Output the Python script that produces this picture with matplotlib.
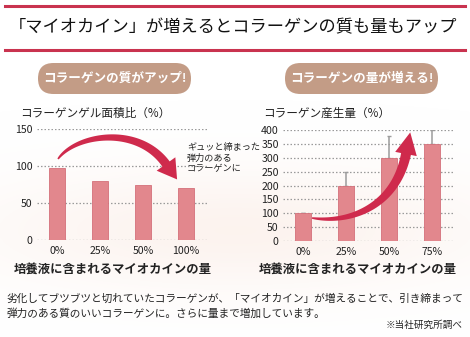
import matplotlib
matplotlib.use('Agg')
import matplotlib.pyplot as plt
from matplotlib.patches import FancyBboxPatch, Polygon
import numpy as np

plt.rcParams['font.family'] = ['Noto Sans CJK JP', 'DejaVu Sans']

# data
left_cats = ['0%', '25%', '50%', '100%']
left_vals = [97, 80, 75, 70]
left_ticks = [0, 50, 100, 150]

right_cats = ['0%', '25%', '50%', '75%']
right_vals = [100, 200, 300, 350]
right_err = [0, 50, 80, 50]
right_ticks = [0, 50, 100, 150, 200, 250, 300, 350, 400]

title = '「マイオカイン」が増えるとコラーゲンの質も量もアップ'
left_badge = 'コラーゲンの質がアップ!'
right_badge = 'コラーゲンの量が増える!'
left_ylabel = 'コラーゲンゲル面積比（%）'
right_ylabel = 'コラーゲン産生量（%）'
xlabel = '培養液に含まれるマイオカインの量'
note = 'ギュッと締まった\n弾力のある\nコラーゲンに'
caption = ('劣化してブツブツと切れていたコラーゲンが、「マイオカイン」が増えることで、引き締まって\n'
           '弾力のある質のいいコラーゲンに。さらに量まで増加しています。')
source = '※当社研究所調べ'

W, H = 470, 337
bar_c = '#e2878d'
bar_e = '#d4707a'
red = '#c9334f'
arrow_c = '#cf2a4c'
pill_c = '#c39c86'
txt = '#222222'

fig = plt.figure(figsize=(W / 100, H / 100), dpi=100)

# background overlay (pixel coords)
bg = fig.add_axes([0, 0, 1, 1], zorder=0)
bg.set_xlim(0, W)
bg.set_ylim(H, 0)
bg.axis('off')

# faint peach glow behind the charts
yy, xx = np.mgrid[0:H, 0:W]
glow = np.exp(-(((xx - 235) / 260.0) ** 2 + ((yy - 230) / 60.0) ** 2))
img = np.ones((H, W, 4))
img[..., 0] = 0.98
img[..., 1] = 0.90
img[..., 2] = 0.86
img[..., 3] = glow * 0.45
bg.imshow(img, extent=(0, W, H, 0), aspect='auto', zorder=0)

bg.plot([5, 465], [6, 6], color=red, lw=2.2, zorder=1)
bg.plot([5, 465], [50, 50], color=red, lw=2.2, zorder=1)
bg.text(233, 27, title, ha='center', va='center', fontsize=12.4, color='#111111')

for x0, x1, label in [(22, 207, left_badge), (269, 454, right_badge)]:
    pill = FancyBboxPatch((x0 + 16, 63), x1 - x0 - 32, 31,
                          boxstyle='round,pad=0,rounding_size=15.5',
                          fc=pill_c, ec='none', zorder=2)
    bg.add_patch(pill)
    bg.text((x0 + x1) / 2, 78.5, label, ha='center', va='center',
            fontsize=9.1, fontweight='bold', color='white', zorder=3)

bg.text(20, 113, left_ylabel, ha='left', va='center', fontsize=8.4, color=txt)
bg.text(263, 113, right_ylabel, ha='left', va='center', fontsize=8.4, color=txt)
bg.text(113, 269, xlabel, ha='center', va='center', fontsize=8.9,
        fontweight='bold', color=txt)
bg.text(358, 269, xlabel, ha='center', va='center', fontsize=8.9,
        fontweight='bold', color=txt)
bg.text(7, 306, caption, ha='left', va='center', fontsize=7.7,
        color=txt, linespacing=1.5)
bg.text(463, 325, source, ha='right', va='center', fontsize=6.9, color=txt)
bg.text(187, 158, note, ha='left', va='center', fontsize=6.6,
        color=txt, linespacing=1.25)


def setup(ax, ticks, ymax):
    ax.set_facecolor('none')
    ax.set_ylim(0, ymax)
    ax.set_yticks(ticks)
    for t in ticks:
        ax.axhline(t, color='#9a9a9a', lw=0.9, ls=(0, (1.2, 1.6)), zorder=0)
    for s in ax.spines.values():
        s.set_visible(False)
    ax.tick_params(axis='both', length=0, labelsize=7.6, colors=txt)
    ax.tick_params(axis='y', pad=3)
    ax.tick_params(axis='x', pad=4)


# left chart
axl = fig.add_axes([37 / W, (H - 240) / H, 170 / W, 111 / H], zorder=1)
setup(axl, left_ticks, 150)
xl = np.arange(len(left_cats))
axl.bar(xl, left_vals, width=0.37, color=bar_c, edgecolor=bar_e, lw=0.6, zorder=2)
axl.set_xticks(xl)
axl.set_xticklabels(left_cats)
axl.set_xlim(-0.47, 3.49)

# right chart
axr = fig.add_axes([283 / W, (H - 241) / H, 172 / W, 111 / H], zorder=1)
setup(axr, right_ticks, 400)
xr = np.arange(len(right_cats))
axr.bar(xr, right_vals, width=0.38, color=bar_c, edgecolor=bar_e, lw=0.6, zorder=2)
axr.errorbar(xr, right_vals, yerr=[np.zeros(len(right_err)), right_err],
             fmt='none', ecolor='#9c9c9c', elinewidth=1.1, capsize=1.2, zorder=1)
axr.set_xticks(xr)
axr.set_xticklabels(right_cats)
axr.set_xlim(-0.465, 3.53)

# foreground overlay for the curved arrows
fg = fig.add_axes([0, 0, 1, 1], zorder=5)
fg.set_xlim(0, W)
fg.set_ylim(H, 0)
fg.axis('off')
fg.patch.set_alpha(0)


def tapered_arrow(ax, P, w0, w1, hw, hl, color):
    P = np.array(P, dtype=float)
    t = np.linspace(0, 1, 60)[:, None]
    pts = ((1 - t) ** 3 * P[0] + 3 * (1 - t) ** 2 * t * P[1]
           + 3 * (1 - t) * t ** 2 * P[2] + t ** 3 * P[3])
    d = (3 * (1 - t) ** 2 * (P[1] - P[0]) + 6 * (1 - t) * t * (P[2] - P[1])
         + 3 * t ** 2 * (P[3] - P[2]))
    d = d / np.linalg.norm(d, axis=1)[:, None]
    n = np.column_stack([-d[:, 1], d[:, 0]])
    w = (w0 + (w1 - w0) * t ** 0.7) / 2
    left = pts + n * w
    right = pts - n * w
    de = d[-1]
    ne = n[-1]
    base = P[3]
    tip = base + de * hl
    poly = np.vstack([left, base + ne * hw, tip, base - ne * hw, right[::-1]])
    ax.add_patch(Polygon(poly, closed=True, fc=color, ec='none'))


tapered_arrow(fg, [(58, 159), (76, 134), (138, 125), (166, 164)],
              1.5, 9.0, 11.5, 19, arrow_c)
tapered_arrow(fg, [(312, 218), (352, 224), (396, 205), (406, 154)],
              1.5, 10, 11, 22, arrow_c)

fig.savefig('out.png', dpi=100)
